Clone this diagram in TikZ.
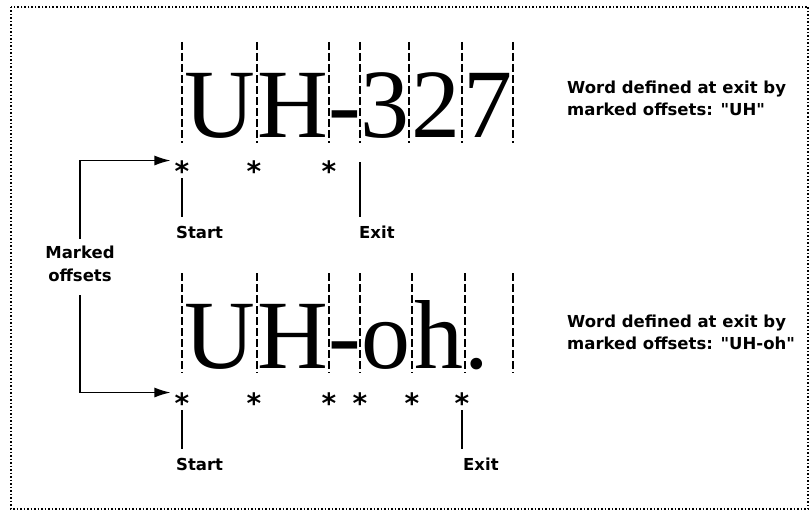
\documentclass[tikz,border=0pt]{standalone}
\usepackage{fontspec}
\setsansfont{DejaVu Sans}
\newfontfamily\bigserif{Liberation Serif}
\usetikzlibrary{arrows.meta,positioning,calc}

\begin{document}
\begin{tikzpicture}[x=1pt,y=-1pt,
  glyph/.style={font=\bigserif\fontsize{98}{98}\selectfont,inner sep=0pt,anchor=base},
  cut/.style={dash pattern=on 8pt off 3pt,line width=1.3pt},
  starmark/.style={font=\sffamily\bfseries\fontsize{28}{28}\selectfont,inner sep=0pt,anchor=base},
  lbl/.style={font=\sffamily\bfseries\fontsize{16.5}{16.5}\selectfont,inner sep=0pt,anchor=north west},
  note/.style={font=\sffamily\bfseries\fontsize{16.5}{22}\selectfont,inner sep=0pt,align=left,anchor=north west},
  tick/.style={line width=1.3pt,shorten <=-3.5pt,shorten >=9pt},
  ptr/.style={line width=1.4pt,-{Latex[length=16pt,width=10pt]},shorten >=4pt}]
  \useasboundingbox (0,0) rectangle (811,511);
  \draw[dash pattern=on 1.5pt off 2pt,line width=1.3pt] (11,7) rectangle (808,509); % frame
  % upper word: UH-327
  \foreach \x in {182,257,329,360,409,462,513} \draw[cut] (\x,42) -- (\x,143);
  \foreach \c/\x [count=\i] in {U/219.5,H/293,-/344.5,3/384.5,2/435.5,7/487.5}
    \node[glyph] (wa\i) at (\x,137) {\c};
  \foreach \x [count=\i] in {182,254,329} \node[starmark] (sa\i) at (\x,181.5) {*};
  \node[lbl] (st1) at (176,226) {Start};
  \node[lbl] (ex1) at (359,226) {Exit};
  \coordinate (xa) at (360,162);
  \draw[tick,shorten <=0pt] (xa) -- (xa |- ex1.north);
  \draw[tick] (sa1.south) -- (sa1.south |- st1.north);
  \node[note] (na) at (567,81) {Word defined at exit by\\marked offsets: \textquotedbl UH\textquotedbl};
  % lower word: UH-oh.
  \foreach \x in {182,257,329,360,412,465,513} \draw[cut] (\x,273) -- (\x,373);
  \foreach \c/\x [count=\i] in {U/219.5,H/293,-/344.5,o/386,h/438.5,./477}
    \node[glyph] (wb\i) at (\x,368) {\c};
  \foreach \x [count=\i] in {182,254,329,360,412,462} \node[starmark] (sb\i) at (\x,413.5) {*};
  \node[lbl] (st2) at (176,458) {Start};
  \node[lbl] (ex2) at (463,458) {Exit};
  \draw[tick] (sb1.south) -- (sb1.south |- st2.north);
  \draw[tick] (sb6.south) -- (sb6.south |- ex2.north);
  \node[note] (nb) at (567,315) {Word defined at exit by\\marked offsets: \textquotedbl UH-oh\textquotedbl};
  % marked offsets
  \node[font=\sffamily\bfseries\fontsize{16.5}{23}\selectfont,inner sep=0pt,align=center] (mo) at (80,264) {Marked\\offsets};
  \draw[ptr,shorten <=7pt] (mo) |- (sa1.north west);
  \draw[ptr,shorten <=13pt] (mo) |- (sb1.north west);
\end{tikzpicture}
\end{document}
